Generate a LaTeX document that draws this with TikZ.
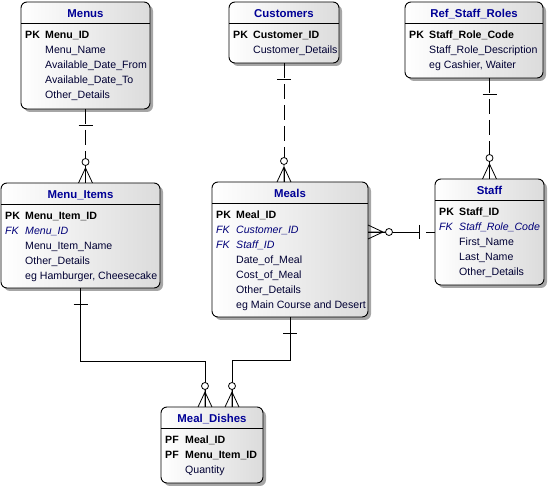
\documentclass[tikz,border=0pt]{standalone}
\usepackage{fontspec}
\setmainfont{Liberation Sans}
\usetikzlibrary{shadows}
\definecolor{titleblue}{RGB}{0,0,150}
\definecolor{fkblue}{RGB}{0,0,120}
\definecolor{fieldblue}{RGB}{0,0,51}
\tikzset{
entity/.style={
	draw, rounded corners=6pt, left color=white, right color=black!14,
	inner sep=0pt, outer sep=0pt, anchor=north west, line width=0.9pt,
	drop shadow={shadow xshift=3pt, shadow yshift=-3pt, fill=black!35, opacity=1}},
entitytitle/.style={font=\fontsize{11.4}{14}\selectfont\bfseries, text=titleblue, inner sep=0pt},
entityrows/.style={font=\fontsize{10.6}{15}\selectfont, text=fieldblue, inner sep=0pt, anchor=north west},
idrel/.style={line width=0.8pt},
nonidrel/.style={line width=0.8pt, dash pattern=on 15pt off 6pt},
zeromany/.pic={
	\draw[solid, line width=0.8pt] (-7,0) -- (0,-15) -- (7,0) (0,0) -- (0,-17.5);
	\draw[solid, line width=0.8pt, fill=white] (0,-21) circle (3.5);
},
onebar/.pic={
	\draw[solid, line width=0.8pt] (-7,16) -- (7,16);
}
}
\newcommand{\pkfield}[1]{\textcolor{black}{\textbf{PK}} & \textcolor{black}{\textbf{#1}}\\}
\newcommand{\pffield}[1]{\textcolor{black}{\textbf{PF}} & \textcolor{black}{\textbf{#1}}\\}
\newcommand{\fkfield}[1]{\textcolor{fkblue}{\textit{FK}} & \textcolor{fkblue}{\textit{#1}}\\}
\newcommand{\field}[1]{ & #1\\}
% name, left, top, width, height, title, rows
\newcommand{\entity}[7]{%
	\node[entity, minimum width=#4pt, minimum height=#5pt] (#1) at (#2,#3) {};
	\draw[line width=0.9pt] (#1.north west) ++(0,21) -- ++(#4,0);
	\path (#1.north) ++(0,15.5) node[entitytitle, anchor=base] (#1-title) {#6};
	\path (#1.north west) ++(4,26) node[entityrows] (#1-rows)
		{\begin{tabular}{@{}p{20pt}@{}l@{}}#7\end{tabular}};
}

\begin{document}
\begin{tikzpicture}[x=1pt, y=-1pt]
	\useasboundingbox (0,0) rectangle (550,489);
	\entity{menus}{21}{2}{129}{107}{Menus}{\pkfield{Menu\_ID}\field{Menu\_Name}%
		\field{Available\_Date\_From}\field{Available\_Date\_To}\field{Other\_Details}}
	\entity{customers}{229}{2}{110}{61}{Customers}{\pkfield{Customer\_ID}\field{Customer\_Details}}
	\entity{refroles}{405}{2}{138}{76}{Ref\_Staff\_Roles}{\pkfield{Staff\_Role\_Code}%
		\field{Staff\_Role\_Description}\field{eg Cashier, Waiter}}
	\entity{menuitems}{1}{183}{159}{105}{Menu\_Items}{\pkfield{Menu\_Item\_ID}\fkfield{Menu\_ID}%
		\field{Menu\_Item\_Name}\field{Other\_Details}\field{eg Hamburger, Cheesecake}}
	\entity{meals}{212}{182}{156}{135}{Meals}{\pkfield{Meal\_ID}\fkfield{Customer\_ID}\fkfield{Staff\_ID}%
		\field{Date\_of\_Meal}\field{Cost\_of\_Meal}\field{Other\_Details}\field{eg Main Course and Desert}}
	\entity{staff}{435}{179}{109}{106}{Staff}{\pkfield{Staff\_ID}\fkfield{Staff\_Role\_Code}%
		\field{First\_Name}\field{Last\_Name}\field{Other\_Details}}
	\entity{mealdishes}{161}{407}{102}{76}{Meal\_Dishes}{\pffield{Meal\_ID}\pffield{Menu\_Item\_ID}\field{Quantity}}

	% Menus -- Menu_Items
	\draw[nonidrel] (menus.south) -- (menuitems.north -| menus.south);
	\path (menus.south) pic{onebar};
	\path (menuitems.north -| menus.south) pic{zeromany};
	% Customers -- Meals
	\draw[nonidrel] (customers.south) -- (meals.north -| customers.south);
	\path (customers.south) pic{onebar};
	\path (meals.north -| customers.south) pic{zeromany};
	% Ref_Staff_Roles -- Staff
	\draw[nonidrel] (refroles.south -| staff.north) -- (staff.north);
	\path (refroles.south -| staff.north) pic{onebar};
	\path (staff.north) pic{zeromany};
	% Staff -- Meals
	\draw[nonidrel, dash pattern=on 9pt off 7pt on 60pt off 1pt] (staff.west) -- (meals.east |- staff.west);
	\path (staff.west) pic[rotate=-90]{onebar};
	\path (meals.east |- staff.west) pic[rotate=-90]{zeromany};
	% Menu_Items, Meals -- Meal_Dishes
	\draw[idrel] (menuitems.south) -- ++(0,73) -| ([xshift=-7pt]mealdishes.north);
	\draw[idrel] (meals.south) -- ++(0,43) -| ([xshift=20pt]mealdishes.north);
	\path (menuitems.south) pic{onebar};
	\path (meals.south) pic{onebar};
	\path ([xshift=-7pt]mealdishes.north) pic{zeromany};
	\path ([xshift=20pt]mealdishes.north) pic{zeromany};
\end{tikzpicture}
\end{document}
